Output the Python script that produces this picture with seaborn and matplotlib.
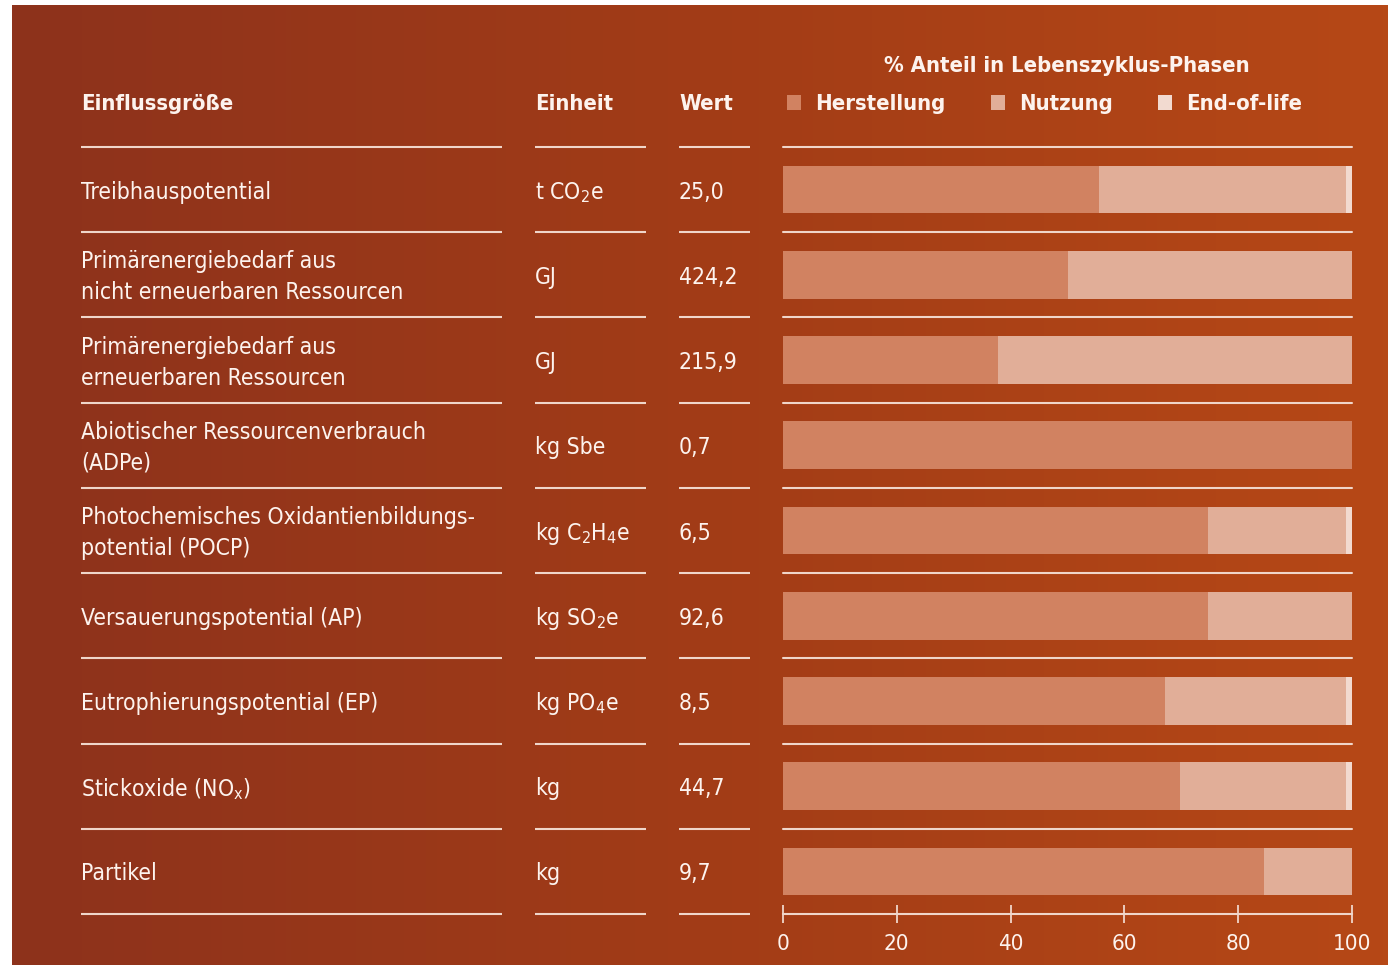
import numpy as np
import pandas as pd
import matplotlib
matplotlib.use("Agg")
import matplotlib.pyplot as plt
import seaborn as sns
from matplotlib import transforms
from matplotlib.patches import Patch

# Daten
einflussgroessen = [
    "Treibhauspotential",
    "Primärenergiebedarf aus\nnicht erneuerbaren Ressourcen",
    "Primärenergiebedarf aus\nerneuerbaren Ressourcen",
    "Abiotischer Ressourcenverbrauch\n(ADPe)",
    "Photochemisches Oxidantienbildungs-\npotential (POCP)",
    "Versauerungspotential (AP)",
    "Eutrophierungspotential (EP)",
    "Stickoxide (NO$_\\mathregular{x}$)",
    "Partikel",
]
einheiten = ["t CO$_2$e", "GJ", "GJ", "kg Sbe", "kg C$_2$H$_4$e",
             "kg SO$_2$e", "kg PO$_4$e", "kg", "kg"]
werte = ["25,0", "424,2", "215,9", "0,7", "6,5", "92,6", "8,5", "44,7", "9,7"]

herstellung = [55.5, 50.1, 37.8, 100.0, 74.7, 74.7, 67.1, 69.8, 84.6]
nutzung = [43.4, 49.9, 62.2, 0.0, 24.3, 25.3, 31.8, 29.2, 15.4]
end_of_life = [1.1, 0.0, 0.0, 0.0, 1.0, 0.0, 1.1, 1.0, 0.0]

phasen = ["Herstellung", "Nutzung", "End-of-life"]
farben = {"Herstellung": "#d18261", "Nutzung": "#e1ae98", "End-of-life": "#f2dad0"}
textfarbe = "#fdf3ee"
linienfarbe = "#f0d6ca"

sns.set_theme(style="white")
plt.rcParams["font.family"] = ["DejaVu Sans"]
plt.rcParams["font.stretch"] = "condensed"
plt.rcParams["mathtext.default"] = "regular"

W, H = 1388, 965
fs_text = 16.5
fs_kopf = 15.8

fig = plt.figure(figsize=(W / 100, H / 100), dpi=100)
fig.patch.set_facecolor("white")

# Hintergrund mit Farbverlauf
bg = fig.add_axes([12 / W, 0, 1 - 12 / W, 960 / H])
verlauf = np.linspace(0, 1, 256).reshape(1, -1)
cmap = matplotlib.colors.LinearSegmentedColormap.from_list("bg", ["#8d321c", "#a23c17", "#b64816"])
bg.imshow(verlauf, aspect="auto", cmap=cmap, extent=[0, 1, 0, 1])
bg.set_axis_off()

# gestapelte Balken: kumulierte Werte übereinander zeichnen
kum = pd.DataFrame({
    "groesse": einflussgroessen,
    "Herstellung": herstellung,
    "Nutzung": np.add(herstellung, nutzung),
    "End-of-life": np.add(np.add(herstellung, nutzung), end_of_life),
})
df = kum.melt(id_vars="groesse", var_name="phase", value_name="anteil")

ax = fig.add_axes([783 / W, 1 - 914 / H, 569 / W, (914 - 147) / H])
ax.patch.set_alpha(0)
sns.barplot(data=df, x="anteil", y="groesse", hue="phase",
            hue_order=["End-of-life", "Nutzung", "Herstellung"],
            order=einflussgroessen, palette=farben, dodge=False,
            width=0.56, saturation=1, orient="h", legend=False,
            linewidth=0, edgecolor="none", ax=ax)

ax.set_xlim(0, 100)
ax.set_ylim(len(einflussgroessen) - 0.5, -0.5)
ax.set_xlabel("")
ax.set_ylabel("")
ax.set_yticks([])
ax.set_xticks(range(0, 101, 20))
ax.tick_params(axis="x", bottom=True, direction="inout", length=13, width=1.3,
               color=linienfarbe, labelcolor=textfarbe, labelsize=16, pad=8)
for s in ["top", "right", "left"]:
    ax.spines[s].set_visible(False)
ax.spines["bottom"].set_color(linienfarbe)
ax.spines["bottom"].set_linewidth(1.5)

# Trennlinien
zeilen = np.arange(len(einflussgroessen))
for y in zeilen - 0.5:
    ax.axhline(y, color=linienfarbe, lw=1.5, clip_on=False)

trans = transforms.blended_transform_factory(fig.transFigure, ax.transData)
spalten = [(81, 502), (535, 646), (679, 750)]
for x0, x1 in spalten:
    ax.hlines(np.append(zeilen - 0.5, len(zeilen) - 0.5), x0 / W, x1 / W,
              colors=linienfarbe, lw=1.5, transform=trans, clip_on=False)

# Tabellentext
for i in zeilen:
    ax.text(81 / W, i + 0.03, einflussgroessen[i], transform=trans, va="center", ha="left",
            color=textfarbe, fontsize=fs_text, linespacing=1.45, clip_on=False)
    ax.text(535 / W, i + 0.03, einheiten[i], transform=trans, va="center", ha="left",
            color=textfarbe, fontsize=fs_text, clip_on=False)
    ax.text(679 / W, i + 0.03, werte[i], transform=trans, va="center", ha="left",
            color=textfarbe, fontsize=fs_text, clip_on=False)

# Kopfzeile
kopf_y = 1 - 104 / H
for x, t in [(81, "Einflussgröße"), (535, "Einheit"), (679, "Wert")]:
    fig.text(x / W, kopf_y, t, ha="left", va="center", color=textfarbe,
             fontsize=fs_kopf, fontweight="bold")
fig.text(1067 / W, 1 - 66 / H, "% Anteil in Lebenszyklus-Phasen", ha="center",
         va="center", color=textfarbe, fontsize=fs_kopf, fontweight="bold")

handles = [Patch(facecolor=farben[p], edgecolor="none", label=p) for p in phasen]
leg = fig.legend(handles=handles, ncol=3, loc="center left",
                 bbox_to_anchor=(787 / W, 1 - 104 / H), frameon=False,
                 handlelength=0.65, handleheight=0.65, handletextpad=0.65,
                 columnspacing=2.05, borderpad=0, borderaxespad=0,
                 prop={"size": fs_kopf, "weight": "bold"})
for t in leg.get_texts():
    t.set_color(textfarbe)

fig.savefig("out.png", dpi=100)
